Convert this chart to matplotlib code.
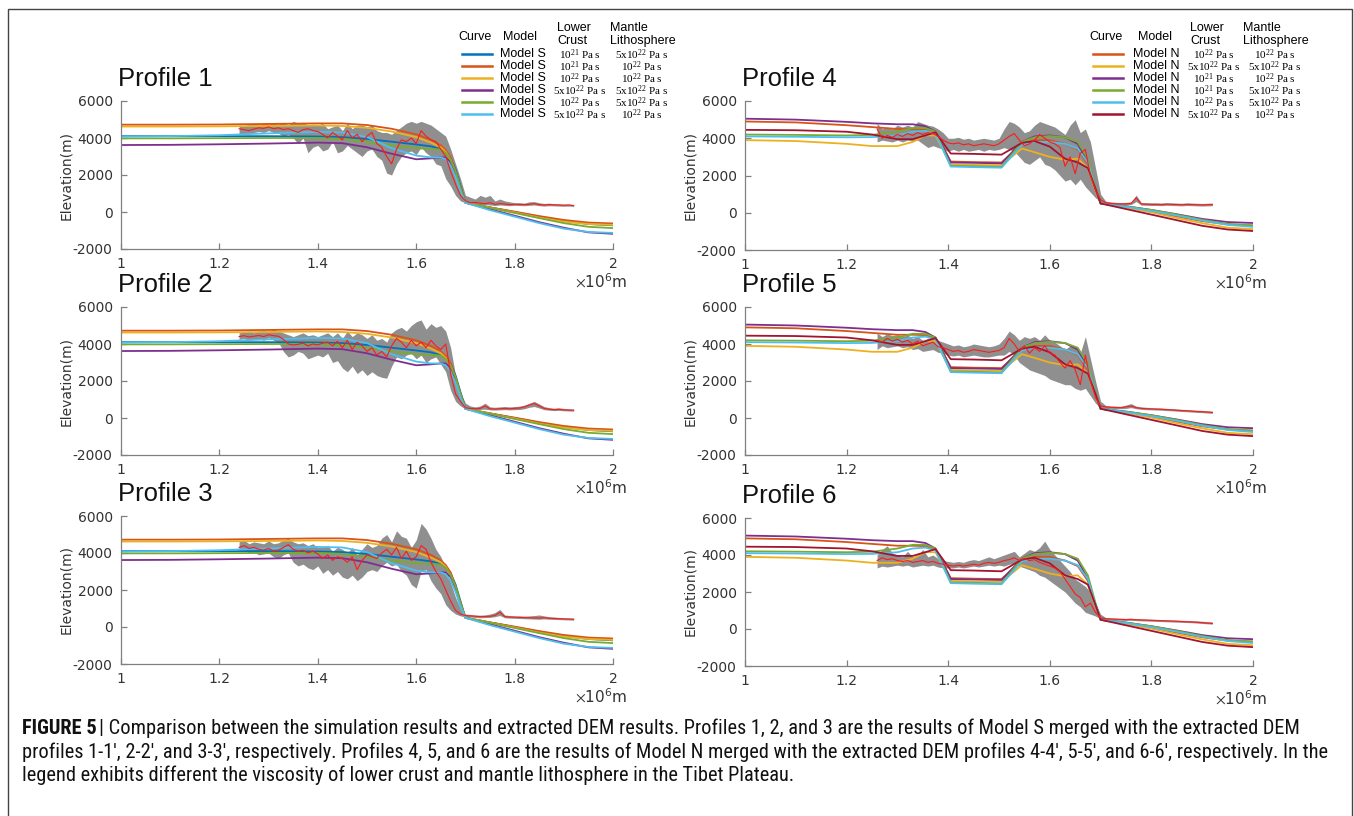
import numpy as np
import matplotlib
matplotlib.use('Agg')
import matplotlib.pyplot as plt
from matplotlib.lines import Line2D
from matplotlib.patches import Rectangle
from matplotlib import font_manager
from matplotlib.ft2font import FT2Font

W, H = 1354, 816

# ---------------- data ----------------
# model S curves (profiles 1-3), x in 1e6 m, elevation in m
xs = [1.0, 1.1, 1.2, 1.3, 1.4, 1.45, 1.5, 1.55, 1.6, 1.63, 1.65, 1.66, 1.67,
      1.68, 1.69, 1.70, 1.75, 1.8, 1.85, 1.9, 1.95, 2.0]
s1 = [4100, 4100, 4100, 4100, 4080, 4050, 3950, 3800, 3650, 3550, 3400, 3250, 2900,
      2300, 1400, 500, 250, 0, -250, -480, -650, -720]
s2 = [4720, 4720, 4730, 4760, 4790, 4790, 4700, 4500, 4200, 3900, 3600, 3350, 2950,
      2200, 1300, 500, 250, 20, -220, -430, -570, -620]
s3 = [4620, 4620, 4630, 4650, 4680, 4650, 4550, 4350, 4050, 3750, 3500, 3250, 2800,
      2100, 1200, 500, 230, -30, -300, -520, -650, -700]
s4 = [3620, 3630, 3660, 3700, 3750, 3720, 3500, 3150, 2850, 2900, 2950, 2950, 2700,
      2100, 1200, 500, 150, -200, -550, -850, -1100, -1180]
s5 = [3980, 3980, 3990, 4000, 4000, 3950, 3800, 3600, 3450, 3400, 3380, 3200, 2800,
      2200, 1300, 500, 230, -50, -330, -600, -800, -870]
s6 = [4080, 4100, 4150, 4250, 4330, 4300, 4050, 3450, 3050, 2950, 2950, 2850, 2500,
      1900, 1100, 500, 100, -250, -600, -900, -1080, -1130]

# model N curves (profiles 4-6)
xn = [1.0, 1.1, 1.2, 1.25, 1.3, 1.33, 1.355, 1.375, 1.405, 1.45, 1.505, 1.545, 1.57,
      1.6, 1.63, 1.655, 1.675, 1.69, 1.70, 1.75, 1.8, 1.85, 1.9, 1.95, 2.0]
n1 = [4900, 4850, 4700, 4600, 4500, 4500, 4480, 4300, 2750, 2720, 2700, 3700, 3900,
      3900, 3700, 3400, 2600, 1300, 500, 300, 50, -200, -450, -620, -680]
n2 = [3900, 3850, 3700, 3580, 3580, 3800, 4150, 4150, 2600, 2570, 2550, 3450, 3250,
      3000, 2850, 2900, 2400, 1200, 500, 280, 20, -280, -560, -800, -880]
n3 = [5050, 5000, 4880, 4800, 4750, 4750, 4650, 4350, 2700, 2680, 2650, 3800, 4100,
      4150, 4050, 3700, 2700, 1300, 500, 350, 150, -80, -330, -500, -550]
n4 = [4200, 4180, 4150, 4180, 4350, 4550, 4550, 4350, 2520, 2500, 2460, 3800, 4050,
      4120, 4050, 3800, 2900, 1400, 500, 340, 150, -100, -380, -600, -680]
n5 = [4100, 4080, 4050, 4060, 4150, 4350, 4400, 4250, 2480, 2450, 2420, 3650, 3800,
      3800, 3700, 3450, 2700, 1300, 500, 320, 100, -150, -420, -650, -760]
n6 = [4450, 4430, 4350, 4200, 3950, 3950, 4150, 4320, 3180, 3160, 3120, 3750, 3850,
      3550, 2900, 2700, 2400, 1300, 500, 200, -100, -400, -700, -900, -980]

# extracted DEM profiles (red mean line, gray min/max band)
x_left = np.round(np.arange(1.24, 1.925, 0.01), 2)
x_right = np.round(np.arange(1.26, 1.925, 0.01), 2)

p1_dem = [4500, 4450, 4400, 4480, 4550, 4520, 4600,
          4500, 4550, 4450, 4500, 4400, 4300, 4450, 4500, 4400, 4350,
          4200, 4000, 4300, 4100, 3900, 4400, 4000, 4200, 3800, 4100,
          4300, 3700, 3500, 3000, 2600, 3400, 3900, 3800, 4000, 3700,
          4400, 4100, 3900, 3800, 3400, 3000, 2200, 1500, 900, 600,
          500, 520, 480, 450, 500, 420, 450, 430, 400, 420,
          410, 400, 420, 450, 400, 380, 400, 390, 380, 370, 380, 350]
p1_lo = [4200, 4250, 4200, 4300, 4350, 4300, 4400,
         4300, 4250, 4100, 4200, 4000, 3700, 4000, 3200, 3500, 3600,
         3300, 3400, 3800, 3200, 3300, 3600, 3400, 3200, 3000, 3300,
         3400, 3000, 2800, 2100, 2000, 2600, 3000, 3200, 3300, 3100,
         3500, 3200, 3000, 2600, 2500, 1800, 1400, 900, 600, 500,
         400, 420, 380, 400, 380, 350, 380, 360, 340, 360,
         350, 340, 360, 380, 340, 320, 340, 330, 320, 310, 320, 300]
p1_hi = [4700, 4650, 4750, 4800, 4700, 4800, 4750,
         4800, 4750, 4850, 4700, 4900, 4800, 4850, 4700, 4750, 4700,
         4800, 4500, 4600, 4700, 4400, 4800, 4500, 4700, 4700, 4600,
         4700, 4400, 4300, 4300, 4200, 4400, 4600, 4800, 4900, 4800,
         4900, 4800, 4700, 4500, 4300, 4100, 3400, 2600, 1800, 900,
         800, 700, 900, 800, 900, 600, 700, 600, 550, 500,
         500, 480, 550, 560, 500, 460, 480, 450, 440, 420, 430, 400]

p2_dem = [4400, 4450, 4380, 4420, 4460, 4400, 4500,
          4450, 4420, 4250, 4000, 3950, 3980, 4050, 3900, 4000, 3950,
          4050, 4100, 3900, 4150, 3800, 4200, 3700, 4100, 3900, 3600,
          3800, 3400, 3600, 3300, 3900, 4300, 4100, 3800, 4200, 3900,
          4100, 3800, 4200, 3900, 3700, 4000, 2400, 1300, 900, 550,
          520, 500, 520, 650, 500, 480, 500, 520, 500, 520,
          540, 600, 700, 780, 650, 520, 480, 450, 470, 440, 430, 420]
p2_lo = [4250, 4300, 4200, 4250, 4300, 4200, 4350,
         4200, 4100, 3600, 3300, 3400, 3600, 3500, 3200, 3300, 3400,
         3300, 3500, 3000, 3100, 2700, 2500, 2800, 2400, 2600, 2300,
         2500, 2300, 2200, 2150, 2800, 3300, 3200, 3400, 3500, 3200,
         3400, 3000, 3200, 3300, 2900, 2500, 1500, 900, 650, 500,
         450, 440, 460, 480, 440, 430, 440, 450, 440, 450,
         460, 500, 580, 620, 540, 450, 420, 400, 410, 390, 380, 370]
p2_hi = [4600, 4650, 4700, 4600, 4700, 4750, 4700,
         4800, 4700, 4600, 4500, 4400, 4500, 4600, 4450, 4500, 4400,
         4500, 4600, 4400, 4600, 4300, 4700, 4400, 4600, 4500, 4300,
         4500, 4200, 4300, 4100, 4600, 4800, 4900, 4700, 5000, 5200,
         5300, 4800, 5100, 4900, 5000, 4700, 3800, 2300, 1400, 800,
         650, 600, 650, 800, 600, 580, 600, 620, 600, 620,
         640, 700, 800, 900, 760, 620, 560, 530, 550, 520, 500, 480]

p3_dem = [4300, 4400, 4250, 4300, 4200, 4150, 4250,
          4100, 4150, 4300, 4450, 4200, 4100, 4150, 4000, 4100, 3950,
          3700, 3900, 3600, 3800, 3700, 3500, 3800, 3100, 3600, 3900,
          3800, 3700, 4000, 4200, 3900, 4300, 3700, 4100, 3600, 3800,
          4400, 4200, 3500, 3000, 2600, 2000, 1400, 900, 700, 620,
          600, 580, 560, 570, 580, 620, 800, 560, 540, 530,
          520, 510, 500, 490, 480, 500, 470, 460, 450, 440, 430, 420]
p3_lo = [4100, 4150, 4000, 4050, 3900, 3950, 4000,
         3800, 3700, 3900, 4000, 3500, 3300, 3400, 3200, 3100, 3300,
         2900, 3100, 2800, 3000, 2700, 2600, 2800, 2500, 2700, 3000,
         3100, 3000, 3300, 3500, 3300, 3400, 3000, 2800, 2300, 2100,
         3000, 3100, 2500, 2100, 1800, 1200, 900, 700, 600, 550,
         540, 520, 500, 510, 520, 560, 620, 500, 480, 470,
         460, 450, 440, 430, 420, 440, 420, 410, 400, 390, 380, 370]
p3_hi = [4600, 4700, 4500, 4600, 4550, 4500, 4650,
         4500, 4550, 4700, 4800, 4600, 4500, 4550, 4400, 4500, 4300,
         4300, 4400, 4100, 4300, 4200, 4000, 4300, 3900, 4200, 4500,
         4300, 4400, 4800, 5000, 4600, 5200, 4900, 4800, 4300, 4700,
         5600, 5300, 4800, 4200, 3800, 3200, 2400, 1600, 1000, 700,
         680, 650, 640, 650, 700, 780, 950, 650, 620, 600,
         600, 590, 600, 620, 650, 600, 560, 540, 520, 500, 490, 480]

p4_dem = [4500, 4000, 4150, 4050, 4200,
          4100, 4250, 4150, 4300, 4200, 4300, 4250, 4100, 3900, 3750,
          3700, 3750, 3650, 3700, 3600, 3650, 3700, 3650, 3600, 3700,
          3900, 4100, 4250, 3900, 3600, 3700, 3900, 4200, 4000, 3800,
          3700, 3500, 2500, 3000, 2100, 3200, 3400, 2000, 1200, 700,
          550, 500, 480, 470, 480, 500, 800, 470, 460, 450,
          450, 440, 460, 450, 440, 430, 450, 440, 430, 420, 430, 440]
p4_lo = [3800, 3900, 3850, 3800, 3900,
         3800, 3900, 3850, 3900, 3700, 3500, 3600, 3500, 3400, 3300,
         3400, 3300, 3400, 3300, 3350, 3400, 3300, 3400, 3350, 3400,
         3500, 3400, 3300, 3000, 2700, 2600, 2800, 3000, 2600, 2500,
         2300, 2000, 1700, 1800, 1500, 1800, 1400, 1100, 800, 600,
         480, 440, 420, 410, 420, 440, 600, 410, 400, 390,
         390, 380, 400, 390, 380, 370, 390, 380, 370, 360, 370, 380]
p4_hi = [4800, 4500, 4600, 4500, 4700,
         4600, 4700, 4600, 4900, 4800, 4700, 4650, 4500, 4300, 4000,
         4000, 4050, 3950, 4000, 3900, 3950, 4000, 3950, 3900, 4000,
         4500, 4900, 4800, 4600, 4300, 4400, 4700, 4900, 4800, 4700,
         4600, 4400, 4200, 4700, 5000, 4300, 4500, 3800, 2400, 1000,
         620, 580, 560, 550, 560, 580, 950, 550, 540, 530,
         530, 520, 540, 530, 520, 510, 530, 520, 510, 500, 510, 520]

p5_dem = [4200, 4100, 4300, 4150, 4250,
          4100, 4200, 4000, 4150, 3900, 4000, 4100, 3850, 3800, 3700,
          3600, 3650, 3550, 3600, 3700, 3650, 3600, 3550, 3600, 3650,
          3800, 4300, 4000, 3600, 3900, 3500, 3800, 3600, 3900, 3500,
          3400, 3000, 2700, 3100, 2600, 1800, 3400, 2000, 1100, 650,
          600, 580, 570, 560, 600, 650, 560, 520, 500, 490,
          480, 470, 450, 440, 420, 400, 390, 370, 350, 340, 320, 300]
p5_lo = [3700, 3900, 3800, 3850, 3900,
         3800, 3850, 3700, 3750, 3600, 3650, 3700, 3550, 3500, 3400,
         3350, 3400, 3300, 3350, 3400, 3350, 3300, 3300, 3350, 3400,
         3400, 3600, 3400, 3000, 2800, 2600, 2500, 2400, 2300, 2100,
         2000, 1900, 1800, 1800, 1600, 1500, 1600, 1200, 800, 550,
         530, 520, 510, 500, 520, 560, 500, 470, 450, 440,
         430, 420, 400, 390, 370, 350, 340, 320, 300, 290, 270, 250]
p5_hi = [4600, 4400, 4550, 4450, 4500,
         4400, 4500, 4300, 4400, 4200, 4300, 4400, 4200, 4100, 4000,
         3900, 3950, 3850, 3900, 4000, 3950, 3900, 3850, 3900, 4000,
         4300, 4700, 4500, 4200, 4400, 4300, 4400, 4200, 4500, 4200,
         4100, 3900, 3700, 3900, 3800, 3500, 4400, 3200, 2000, 900,
         680, 650, 640, 630, 700, 780, 640, 600, 580, 560,
         550, 540, 520, 510, 490, 470, 460, 440, 420, 410, 390, 370]

p6_dem = [3700, 3850, 3750, 3800, 3700,
          3650, 3700, 3600, 3650, 3700, 3600, 3650, 3550, 3500, 3450,
          3400, 3450, 3400, 3450, 3500, 3450, 3550, 3600, 3550, 3600,
          3700, 3750, 3850, 3700, 3800, 3700, 3750, 3600, 3500, 3400,
          3300, 3100, 2700, 2300, 1900, 1700, 1200, 1400, 900, 600,
          560, 540, 530, 520, 510, 520, 500, 490, 480, 470,
          460, 450, 440, 430, 420, 400, 390, 380, 360, 340, 320, 300]
p6_lo = [3300, 3400, 3350, 3400, 3450,
         3400, 3450, 3350, 3400, 3450, 3400, 3450, 3350, 3300, 3300,
         3300, 3350, 3300, 3350, 3400, 3350, 3400, 3450, 3400, 3450,
         3400, 3500, 3550, 3400, 3300, 3200, 3100, 2900, 2800, 2600,
         2400, 2200, 2000, 1700, 1400, 1200, 900, 800, 700, 550,
         500, 490, 480, 470, 460, 470, 450, 440, 430, 420,
         410, 400, 390, 380, 370, 360, 350, 340, 320, 300, 280, 260]
p6_hi = [4000, 4300, 4500, 4100, 4000,
         3900, 4200, 3900, 4000, 4300, 3900, 4000, 3800, 3700, 3650,
         3600, 3650, 3600, 3700, 3750, 3700, 3800, 3900, 3800, 3900,
         4000, 4100, 4200, 3900, 4100, 4300, 4200, 4400, 4750, 4300,
         4000, 3700, 3400, 3100, 2700, 2500, 2300, 2000, 1400, 800,
         620, 600, 590, 580, 570, 580, 560, 550, 540, 530,
         520, 510, 500, 490, 480, 470, 460, 450, 440, 420, 400, 380]

x_ticks = [1.0, 1.2, 1.4, 1.6, 1.8, 2.0]
x_ticklabels = ['1', '1.2', '1.4', '1.6', '1.8', '2']
y_ticks = [-2000, 0, 2000, 4000, 6000]

legend_s = [('10^{21}', '5x10^{22}'), ('10^{21}', '10^{22}'), ('10^{22}', '10^{22}'),
            ('5x10^{22}', '5x10^{22}'), ('10^{22}', '5x10^{22}'), ('5x10^{22}', '10^{22}')]
legend_n = [('10^{22}', '10^{22}'), ('5x10^{22}', '5x10^{22}'), ('10^{21}', '10^{22}'),
            ('10^{21}', '5x10^{22}'), ('10^{22}', '5x10^{22}'), ('5x10^{22}', '10^{22}')]

caption = [
    "Comparison between the simulation results and extracted DEM results. Profiles 1, 2, and 3 are the results of Model S merged with the extracted DEM",
    "profiles 1-1\u2032, 2-2\u2032, and 3-3\u2032, respectively. Profiles 4, 5, and 6 are the results of Model N merged with the extracted DEM profiles 4-4\u2032, 5-5\u2032, and 6-6\u2032, respectively. In the",
    "legend exhibits different the viscosity of lower crust and mantle lithosphere in the Tibet Plateau.",
]

# matlab default line colours
c_blue, c_orange, c_yellow = '#0072BD', '#D95319', '#EDB120'
c_purple, c_green, c_cyan, c_dred = '#7E2F8E', '#77AC30', '#4DBEEE', '#A2142F'
colors_s = [c_blue, c_orange, c_yellow, c_purple, c_green, c_cyan]
colors_n = [c_orange, c_yellow, c_purple, c_green, c_cyan, c_dred]

plt.rcParams['mathtext.fontset'] = 'stix'
plt.rcParams['axes.unicode_minus'] = False


def has_prime(path):
    try:
        return FT2Font(path).get_char_index(0x2032) != 0
    except Exception:
        return False


# look for a condensed sans face for the caption
def find_narrow(bold):
    prefs = ['liberationsansnarrow', 'robotocondensed', 'opensanscondensed',
             'dejavusanscondensed', 'notosanscondensed', 'condensed', 'narrow']
    found = []
    for f in font_manager.fontManager.ttflist:
        fn = f.fname.lower().replace('-', '').replace('_', '')
        if 'italic' in fn or 'oblique' in fn:
            continue
        is_bold = 'bold' in fn and 'semibold' not in fn and 'extrabold' not in fn
        if is_bold != bold:
            continue
        if not bold and any(k in fn for k in ['light', 'thin', 'medium', 'black', 'semi']):
            continue
        for i, p in enumerate(prefs):
            if p in fn:
                found.append((i, f.fname))
                break
    found.sort()
    for _, path in found:
        if has_prime(path):
            return font_manager.FontProperties(fname=path)
    return None


cap_font = find_narrow(False)
cap_bold = find_narrow(True)
if cap_font is None:
    cap_font = font_manager.FontProperties(family='Liberation Sans')
if cap_bold is None:
    cap_bold = font_manager.FontProperties(family='Liberation Sans', weight='bold')


def fx(x):
    return x / W


def fy(y):
    return 1 - y / H


fig = plt.figure(figsize=(W / 100, H / 100), dpi=100)

# outer frame
fig.add_artist(Rectangle((fx(8), fy(830)), fx(1352) - fx(8), fy(9) - fy(830),
                         transform=fig.transFigure, fill=False, ec='#444444', lw=1.0))

panels = [
    ('Profile 1', 121, 613, 101, 249, xs, [s1, s2, s3, s4, s5, s6], colors_s, x_left, p1_dem, p1_lo, p1_hi),
    ('Profile 2', 121, 613, 307, 455, xs, [s1, s2, s3, s4, s5, s6], colors_s, x_left, p2_dem, p2_lo, p2_hi),
    ('Profile 3', 121, 613, 516, 664, xs, [s1, s2, s3, s4, s5, s6], colors_s, x_left, p3_dem, p3_lo, p3_hi),
    ('Profile 4', 745, 1253, 101, 250, xn, [n1, n2, n3, n4, n5, n6], colors_n, x_right, p4_dem, p4_lo, p4_hi),
    ('Profile 5', 745, 1253, 307, 455, xn, [n1, n2, n3, n4, n5, n6], colors_n, x_right, p5_dem, p5_lo, p5_hi),
    ('Profile 6', 745, 1253, 518, 666, xn, [n1, n2, n3, n4, n5, n6], colors_n, x_right, p6_dem, p6_lo, p6_hi),
]

for title, x0, x1, y0, y1, xk, models, cols, dx, dem, lo, hi in panels:
    ax = fig.add_axes([fx(x0), fy(y1), fx(x1) - fx(x0), fy(y0) - fy(y1)])
    ax.fill_between(dx, lo, hi, color='#8f8f8f', lw=0)
    for ys, c in zip(models, cols):
        ax.plot(xk, ys, color=c, lw=1.3)
    ax.plot(dx, dem, color='#ff1a1a', lw=0.8)
    ax.set_xlim(1, 2)
    ax.set_ylim(-2000, 6000)
    ax.set_xticks(x_ticks)
    ax.set_xticklabels(x_ticklabels)
    ax.set_yticks(y_ticks)
    ax.spines['top'].set_visible(False)
    ax.spines['right'].set_visible(False)
    for s in ['left', 'bottom']:
        ax.spines[s].set_color('#808080')
        ax.spines[s].set_linewidth(0.9)
    ax.tick_params(direction='in', length=4, width=0.9, color='#808080',
                   labelcolor='#333333', labelsize=10, pad=6)
    fig.text(fx(x0 - 3), fy(y0 - 22), title, fontsize=18.5, family='Liberation Sans',
             ha='left', va='center', color='#111111')
    fig.text(fx(x0 - 55), fy((y0 + y1) / 2), 'Elevation(m)', rotation=90, fontsize=10,
             ha='center', va='center', color='#333333')
    fig.text(fx(x1 + 14), fy(y1 + 32), r'$\times\mathregular{10^{6}}$m', fontsize=11,
             ha='right', va='center', color='#333333')


def draw_legend(xl, xm, xc1, xc2, xh1, xh2, xh3, rows, cols, label):
    ys = [54, 66, 78, 90, 102, 114]
    fig.text(fx(xl - 4), fy(37), 'Curve', fontsize=9, family='Liberation Sans', va='center')
    fig.text(fx(xh1), fy(37), 'Model', fontsize=9, family='Liberation Sans', va='center')
    fig.text(fx(xh2), fy(28), 'Lower', fontsize=9, family='Liberation Sans', va='center')
    fig.text(fx(xh2), fy(41), 'Crust', fontsize=9, family='Liberation Sans', va='center')
    fig.text(fx(xh3), fy(28), 'Mantle', fontsize=9, family='Liberation Sans', va='center')
    fig.text(fx(xh3), fy(41), 'Lithosphere', fontsize=9, family='Liberation Sans', va='center')
    for y, (a, b), c in zip(ys, rows, cols):
        fig.add_artist(Line2D([fx(xl), fx(xl + 30)], [fy(y), fy(y)], color=c, lw=1.8,
                              transform=fig.transFigure))
        fig.text(fx(xm), fy(y), label, fontsize=9, family='Liberation Sans', va='center')
        fig.text(fx(xc1), fy(y + 0.5), r'$\mathregular{' + a + '}$ Pa s', fontsize=8,
                 family='Liberation Serif', ha='center', va='center')
        fig.text(fx(xc2), fy(y + 0.5), r'$\mathregular{' + b + '}$ Pa s', fontsize=8,
                 family='Liberation Serif', ha='center', va='center')


draw_legend(462, 500, 580, 642, 503, 557, 610, legend_s, colors_s, 'Model S')
draw_legend(1093, 1133, 1214, 1275, 1138, 1190, 1243, legend_n, colors_n, 'Model N')

# caption, sized so the second line spans the text width
cap_y = [728, 752, 775]
fig.canvas.draw()
r = fig.canvas.get_renderer()
fs = 11
cap_font.set_size(fs)
probe = fig.text(0, 0, caption[1], fontproperties=cap_font)
w = probe.get_window_extent(r).width
probe.remove()
fs = fs * (1322 - 22) / w
cap_font.set_size(fs)
cap_bold.set_size(fs)
head = fig.text(fx(22), fy(cap_y[0]), 'FIGURE 5', fontproperties=cap_bold,
                va='center', color='#111111')
hw = head.get_window_extent(r).width
fig.text(fx(22 + hw + 2), fy(cap_y[0]), '| ' + caption[0], fontproperties=cap_font,
         va='center', color='#111111')
for y, line in zip(cap_y[1:], caption[1:]):
    fig.text(fx(22), fy(y), line, fontproperties=cap_font, va='center', color='#111111')

fig.savefig('out.png', dpi=100)
